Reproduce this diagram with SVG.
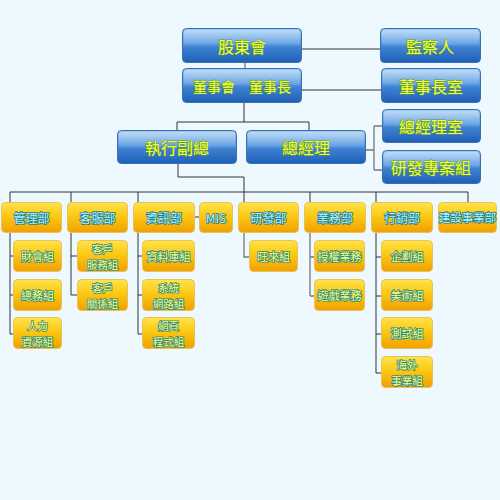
<svg xmlns="http://www.w3.org/2000/svg" width="500" height="500" viewBox="0 0 500 500">
<defs>
<linearGradient id="gb" x1="0" y1="0" x2="0" y2="1">
<stop offset="0" stop-color="#9ccaf2"/>
<stop offset="0.45" stop-color="#5d9be0"/>
<stop offset="0.55" stop-color="#3f82d2"/>
<stop offset="1" stop-color="#1e5fb6"/>
</linearGradient>
<linearGradient id="gy" x1="0" y1="0" x2="0" y2="1">
<stop offset="0" stop-color="#ffe34a"/>
<stop offset="0.45" stop-color="#fcc814"/>
<stop offset="1" stop-color="#f0a000"/>
</linearGradient>
<linearGradient id="gloss" x1="0" y1="0" x2="0" y2="1">
<stop offset="0" stop-color="#ffffff" stop-opacity="0.35"/>
<stop offset="1" stop-color="#ffffff" stop-opacity="0.05"/>
</linearGradient>
</defs>
<style>
.b{fill:url(#gb);stroke:#3a6fb5;stroke-width:1}
.y{fill:url(#gy);stroke:#e6c25a;stroke-width:1}
.bt{font-family:"Noto Sans CJK TC","Noto Sans CJK SC",sans-serif;font-size:16px;fill:#f2ff30;stroke:#5f9a4a;stroke-width:1;paint-order:stroke;text-anchor:middle;dominant-baseline:central}
.dt{font-family:"Noto Sans CJK TC","Noto Sans CJK SC",sans-serif;font-size:12px;fill:#b6f2ff;stroke:#1f7f86;stroke-width:1.6;paint-order:stroke;text-anchor:middle;dominant-baseline:central}
.st{font-family:"Noto Sans CJK TC","Noto Sans CJK SC",sans-serif;font-size:11px;fill:#ffff70;stroke:#2a8a8a;stroke-width:1.6;paint-order:stroke;text-anchor:middle;dominant-baseline:central}
.s2{font-size:10.5px}
.c{fill:none;stroke:#333;stroke-width:1}
.g{fill:none;stroke:#777;stroke-width:1.3}
</style>
<rect width="500" height="500" fill="#edf9fe"/>
<g id="connectors">
<path class="c" d="M302,49H380M302,90H381"/>
<path class="g" d="M245,63V68"/>
<path class="c" d="M244,103V122M177,122H309M177,122V130M309,122V130"/>
<path class="g" d="M366,150H374M374,126V170M374,126H382M374,170H382"/>
<path class="c" d="M178,164V177H244V192"/>
<path class="c" d="M10,192H468M10,192V202M71,192V202M138,192V202M244,192V202M310,192V202M376,192V202M468,192V202"/>
<path class="c" d="M195,217H199"/>
<path class="c" d="M10,233V334M10,256H13M10,295H13M10,334H13"/>
<path class="c" d="M71,233V295M71,256H77M71,295H77"/>
<path class="c" d="M138,233V334M138,256H142M138,295H142M138,334H142"/>
<path class="g" d="M244,233V257H249"/>
<path class="g" d="M310,233V296M310,257H314M310,296H314"/>
<path class="c" d="M376,233V373M376,257H381M376,296H381M376,334H381M376,373H381"/>
</g>
<g id="n-gudonghui"><rect class="b" x="182.5" y="28.5" width="119" height="34" rx="4"/><rect x="184" y="30" width="116" height="15" rx="3" fill="url(#gloss)"/><text class="bt" x="242" y="46">股東會</text></g>
<g id="n-jianchaaren"><rect class="b" x="380.5" y="28.5" width="100" height="34" rx="4"/><rect x="382" y="30" width="97" height="15" rx="3" fill="url(#gloss)"/><text class="bt" x="430" y="46">監察人</text></g>
<g id="n-dongshihui"><rect class="b" x="182.5" y="68.5" width="119" height="34" rx="4"/><rect x="184" y="70" width="116" height="15" rx="3" fill="url(#gloss)"/><text class="bt" x="242" y="86" style="font-size:14px">董事會　董事長</text></g>
<g id="n-dongshizhangshi"><rect class="b" x="381.5" y="68.5" width="99" height="34" rx="4"/><rect x="383" y="70" width="96" height="15" rx="3" fill="url(#gloss)"/><text class="bt" x="431" y="86">董事長室</text></g>
<g id="n-zongjinglishi"><rect class="b" x="382.5" y="109.5" width="98" height="33" rx="4"/><rect x="384" y="111" width="95" height="15" rx="3" fill="url(#gloss)"/><text class="bt" x="431" y="126">總經理室</text></g>
<g id="n-yanfazhuananzu"><rect class="b" x="382.5" y="150.5" width="98" height="33" rx="4"/><rect x="384" y="152" width="95" height="15" rx="3" fill="url(#gloss)"/><text class="bt" x="431" y="167">研發專案組</text></g>
<g id="n-zhixingfuzong"><rect class="b" x="117.5" y="130.5" width="119" height="33" rx="4"/><rect x="119" y="132" width="116" height="15" rx="3" fill="url(#gloss)"/><text class="bt" x="177" y="147">執行副總</text></g>
<g id="n-zongjingli"><rect class="b" x="246.5" y="130.5" width="119" height="33" rx="4"/><rect x="248" y="132" width="116" height="15" rx="3" fill="url(#gloss)"/><text class="bt" x="306" y="147">總經理</text></g>

<g id="d-guanli"><rect class="y" x="1.5" y="202.5" width="60" height="30" rx="4"/><text class="dt" x="31.5" y="217">管理部</text></g>
<g id="d-kefu"><rect class="y" x="67.5" y="202.5" width="60" height="30" rx="4"/><text class="dt" x="97.5" y="217">客服部</text></g>
<g id="d-zixun"><rect class="y" x="133.5" y="202.5" width="61" height="30" rx="4"/><text class="dt" x="164" y="217">資訊部</text></g>
<g id="d-mis"><rect class="y" x="199.5" y="202.5" width="33" height="30" rx="4"/><text class="dt" x="216" y="217">MIS</text></g>
<g id="d-yanfa"><rect class="y" x="238.5" y="202.5" width="60" height="30" rx="4"/><text class="dt" x="268.5" y="217">研發部</text></g>
<g id="d-yewu"><rect class="y" x="304.5" y="202.5" width="61" height="30" rx="4"/><text class="dt" x="335" y="217">業務部</text></g>
<g id="d-xingxiao"><rect class="y" x="371.5" y="202.5" width="61" height="30" rx="4"/><text class="dt" x="402" y="217">行銷部</text></g>
<g id="d-jianshe"><rect class="y" x="438.5" y="202.5" width="58" height="30" rx="4"/><text class="dt" x="467.5" y="217" style="font-size:11.5px">建設事業部</text></g>

<g id="s-caihui"><rect class="y" x="13.5" y="240.5" width="48" height="31" rx="4"/><text class="st" x="37.5" y="256">財會組</text></g>
<g id="s-zongwu"><rect class="y" x="13.5" y="279.5" width="48" height="31" rx="4"/><text class="st" x="37.5" y="295">總務組</text></g>
<g id="s-renli"><rect class="y" x="13.5" y="317.5" width="48" height="31" rx="4"/><text class="st s2" x="37.5" y="325.5">人力</text><text class="st s2" x="37.5" y="341">資源組</text></g>
<g id="s-kehufuwu"><rect class="y" x="77.5" y="240.5" width="50" height="31" rx="4"/><text class="st s2" x="102.5" y="248.5">客戶</text><text class="st s2" x="102.5" y="264">服務組</text></g>
<g id="s-kehuguanxi"><rect class="y" x="77.5" y="279.5" width="50" height="31" rx="4"/><text class="st s2" x="102.5" y="287.5">客戶</text><text class="st s2" x="102.5" y="303">關係組</text></g>
<g id="s-ziliaoku"><rect class="y" x="142.5" y="240.5" width="52" height="31" rx="4"/><text class="st" x="168.5" y="256">資料庫組</text></g>
<g id="s-xitong"><rect class="y" x="142.5" y="279.5" width="52" height="31" rx="4"/><text class="st s2" x="168.5" y="287.5">系統</text><text class="st s2" x="168.5" y="303">網路組</text></g>
<g id="s-wangye"><rect class="y" x="142.5" y="317.5" width="52" height="31" rx="4"/><text class="st s2" x="168.5" y="325.5">網頁</text><text class="st s2" x="168.5" y="341">程式組</text></g>
<g id="s-wanglai"><rect class="y" x="249.5" y="240.5" width="48" height="31" rx="4"/><text class="st" x="273.5" y="256">旺來組</text></g>
<g id="s-shouquan"><rect class="y" x="314.5" y="240.5" width="50" height="31" rx="4"/><text class="st" x="339.5" y="256">授權業務</text></g>
<g id="s-youxi"><rect class="y" x="314.5" y="279.5" width="50" height="31" rx="4"/><text class="st" x="339.5" y="295">遊戲業務</text></g>
<g id="s-qihua"><rect class="y" x="381.5" y="240.5" width="51" height="31" rx="4"/><text class="st" x="407" y="256">企劃組</text></g>
<g id="s-meishu"><rect class="y" x="381.5" y="279.5" width="51" height="31" rx="4"/><text class="st" x="407" y="295">美術組</text></g>
<g id="s-ceshi"><rect class="y" x="381.5" y="317.5" width="51" height="31" rx="4"/><text class="st" x="407" y="333">測試組</text></g>
<g id="s-haiwai"><rect class="y" x="381.5" y="356.5" width="51" height="31" rx="4"/><text class="st s2" x="407" y="364.5">海外</text><text class="st s2" x="407" y="380">事業組</text></g>
</svg>
